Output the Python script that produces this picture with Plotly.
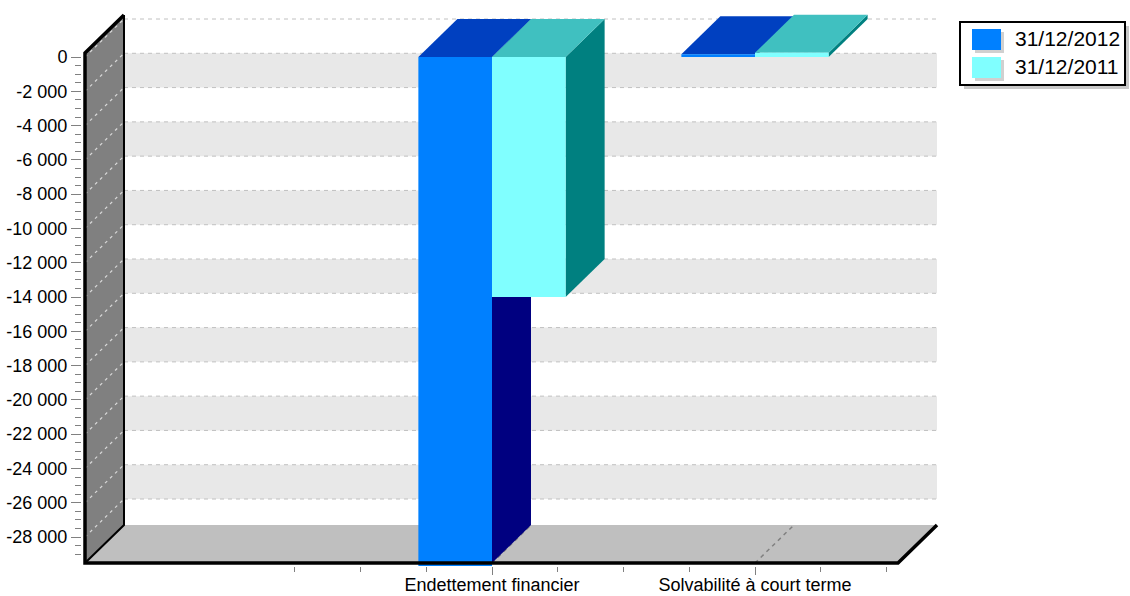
import plotly.graph_objects as go

# ---------------- data ----------------
CATEGORIES = ["", "Endettement financier", "Solvabilité à court terme"]
SERIES = ["31/12/2012", "31/12/2011"]
VALUES_2012 = [None, -30000, 160]
VALUES_2011 = [None, -14000, 250]
Y_TICKS = list(range(-28000, 1, 2000))
Y_TICK_LABELS = [f"{v:,}".replace(",", " ") for v in Y_TICKS]

# ---------------- style ----------------
FRONT = ["#0080FF", "#80FFFF"]
TOP = ["#0040C0", "#40C0C0"]
SIDE = ["#000080", "#008080"]
FONT = "Liberation Sans, Arial, sans-serif"

W, H = 1130, 596
PL, PR, PT, PB = 82, 940, 12, 566          # plot area in pixels


def cx(px):  # pixel -> category units (front plane)
    return 1 + (px - 492) / 263.0


def vy(py):  # pixel -> value units (front plane)
    return (57 - py) * 28000 / 480.0


XRANGE = [cx(PL), cx(PR)]
YRANGE = [vy(PB), vy(PT)]
XL, XR = cx(85), cx(898)
YMIN, YMAX = vy(563), vy(53)
DX = 39 / 263.0
DY = 38 * 28000 / 480.0
BARGAP = 0.44
BW = (1 - BARGAP) / 2


def pth(points, close=True):
    s = "M " + " L ".join(f"{x},{y}" for x, y in points)
    return s + (" Z" if close else "")


shapes = []
# back wall bands
for v in range(-2000, -28001, -4000):
    shapes.append(dict(type="rect", xref="x", yref="y", layer="below",
                       x0=XL + DX, x1=XR + DX, y0=v - 2000 + DY, y1=v + DY,
                       fillcolor="#e8e8e8", line=dict(width=0)))
# back wall gridlines
for v in Y_TICKS:
    shapes.append(dict(type="line", xref="x", yref="y", layer="below",
                       x0=XL + DX, x1=XR + DX, y0=v + DY, y1=v + DY,
                       line=dict(color="#c0c0c0", width=1, dash="4px,4px")))
# left wall
shapes.append(dict(type="path", xref="x", yref="y", layer="below",
                   path=pth([(XL, YMAX), (XL + DX, YMAX + DY), (XL + DX, YMIN + DY), (XL, YMIN)]),
                   fillcolor="#808080", line=dict(width=0)))
for v in Y_TICKS:
    shapes.append(dict(type="line", xref="x", yref="y", layer="below",
                       x0=XL, x1=XL + DX, y0=v, y1=v + DY,
                       line=dict(color="#d8d8d8", width=1.2, dash="3px,4px")))
# floor
shapes.append(dict(type="path", xref="x", yref="y", layer="below",
                   path=pth([(XL, YMIN), (XR, YMIN), (XR + DX, YMIN + DY), (XL + DX, YMIN + DY)]),
                   fillcolor="#bfbfbf", line=dict(width=0)))
for i, c in enumerate(CATEGORIES):
    if c:
        shapes.append(dict(type="line", xref="x", yref="y", layer="below",
                           x0=i, x1=i + DX, y0=YMIN, y1=YMIN + DY,
                           line=dict(color="#808080", width=1.5, dash="4px,4px")))
# thin black back edges
shapes.append(dict(type="path", xref="x", yref="y", layer="below",
                   path=pth([(XL + DX, YMAX + DY), (XL + DX, YMIN + DY), (XL, YMIN)], close=False),
                   line=dict(color="black", width=2)))
# thick black front edges
shapes.append(dict(type="path", xref="x", yref="y", layer="above",
                   path=pth([(XL + DX, YMAX + DY), (XL, YMAX), (XL, YMIN), (XR, YMIN),
                             (XR + DX, YMIN + DY)], close=False),
                   line=dict(color="black", width=3.5)))

fig = go.Figure()

series_vals = [VALUES_2012, VALUES_2011]
# side and top faces (main axes, below the front faces)
for i in range(len(CATEGORIES)):
    for k, vals in enumerate(series_vals):
        v = vals[i]
        if v is None:
            continue
        left = i + (k - 1) * BW
        right = left + BW
        vt = max(v, 0)
        vb = max(min(v, 0), YMIN)
        side = [(right, vt), (right + DX, vt + DY), (right + DX, vb + DY), (right, vb), (right, vt)]
        top = [(left, vt), (right, vt), (right + DX, vt + DY), (left + DX, vt + DY), (left, vt)]
        for poly, col in ((side, SIDE[k]), (top, TOP[k])):
            fig.add_trace(go.Scatter(x=[p[0] for p in poly], y=[p[1] for p in poly],
                                     mode="lines", fill="toself", fillcolor=col,
                                     line=dict(width=0, color=col), hoverinfo="skip",
                                     showlegend=False))

# front faces (overlay axes, drawn on top)
for k, vals in enumerate(series_vals):
    fig.add_trace(go.Bar(x=list(range(len(CATEGORIES))), y=vals, name=SERIES[k],
                         marker=dict(color=FRONT[k], line=dict(width=0)),
                         xaxis="x2", yaxis="y2", showlegend=False))

# manual legend
def xp(px):
    return (px - PL) / (PR - PL)


def yp(py):
    return 1 - (py - PT) / (PB - PT)


shapes.append(dict(type="rect", xref="paper", yref="paper", x0=xp(964), x1=xp(1129),
                   y0=yp(89), y1=yp(26), fillcolor="#c8c8c8", line=dict(width=0)))
shapes.append(dict(type="rect", xref="paper", yref="paper", x0=xp(960), x1=xp(1125),
                   y0=yp(85), y1=yp(22), fillcolor="white", line=dict(color="black", width=2)))
annotations = []
for k, name in enumerate(SERIES):
    y0 = 29 + k * 28
    shapes.append(dict(type="rect", xref="paper", yref="paper", x0=xp(975), x1=xp(1004),
                       y0=yp(y0 + 24), y1=yp(y0 + 3), fillcolor="#d0d0d0", line=dict(width=0)))
    shapes.append(dict(type="rect", xref="paper", yref="paper", x0=xp(972), x1=xp(1001),
                       y0=yp(y0 + 21), y1=yp(y0), fillcolor=FRONT[k], line=dict(width=0)))
    annotations.append(dict(xref="paper", yref="paper", x=xp(1013), y=yp(y0 + 9.5),
                            xanchor="left", yanchor="middle", text=name, showarrow=False,
                            font=dict(family=FONT, size=21, color="black")))

fig.update_layout(
    width=W, height=H, autosize=False,
    margin=dict(l=PL, r=W - PR, t=PT, b=H - PB, pad=0, autoexpand=False),
    paper_bgcolor="white", plot_bgcolor="white",
    barmode="group", bargap=BARGAP, bargroupgap=0,
    hovermode=False, showlegend=False,
    shapes=shapes, annotations=annotations,
    xaxis=dict(range=XRANGE, tickmode="array", automargin=False,
               tickvals=[i for i, c in enumerate(CATEGORIES) if c],
               ticktext=[c for c in CATEGORIES if c],
               ticks="outside", ticklen=8, tickcolor="#808080", tickwidth=1,
               ticklabelstandoff=-6,
               showgrid=False, zeroline=False, showline=False,
               tickfont=dict(family=FONT, size=18, color="black"),
               minor=dict(tickmode="array", tickvals=[j * 0.25 for j in range(1, 11)],
                          ticks="outside", ticklen=5, tickcolor="#808080", tickwidth=1,
                          showgrid=False)),
    yaxis=dict(range=YRANGE, tickmode="array", tickvals=Y_TICKS, ticktext=Y_TICK_LABELS,
               automargin=False,
               ticks="outside", ticklen=10, tickcolor="#808080", tickwidth=1,
               showgrid=False, zeroline=False, showline=False,
               tickfont=dict(family=FONT, size=18, color="black"),
               minor=dict(tickmode="array", tickvals=list(range(-29000, 0, 500)),
                          ticks="outside", ticklen=6, tickcolor="#808080", tickwidth=1,
                          showgrid=False)),
    xaxis2=dict(overlaying="x", range=XRANGE, visible=False),
    yaxis2=dict(overlaying="y", range=YRANGE, visible=False),
)

fig.write_html("out.html")
